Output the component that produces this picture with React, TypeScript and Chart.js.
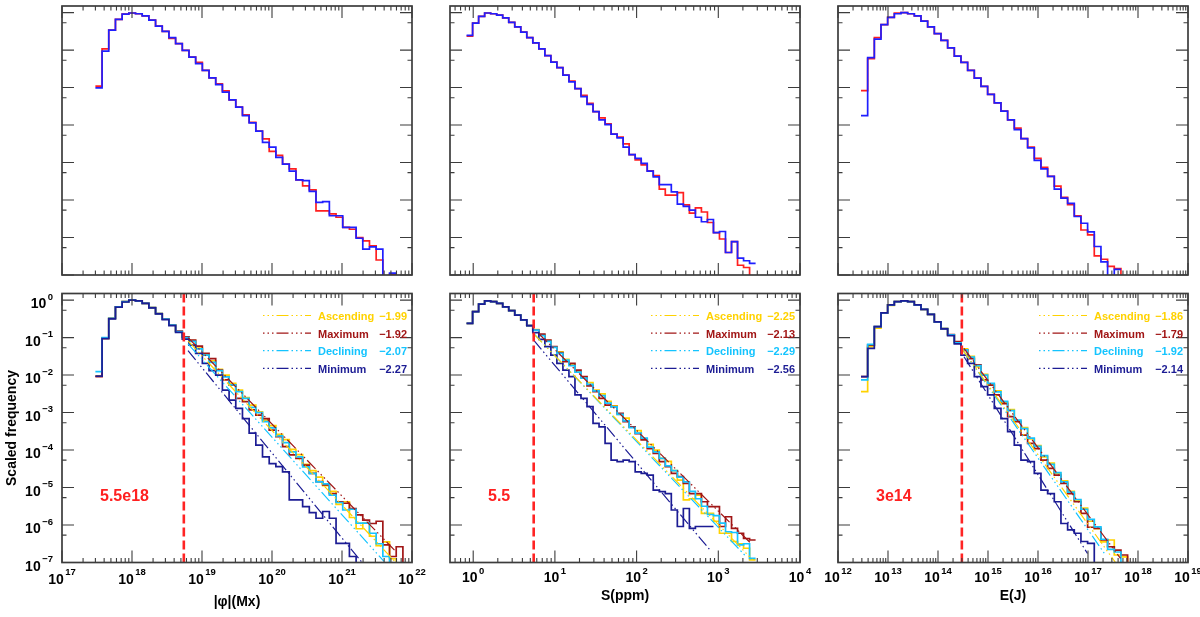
import { useEffect, useRef } from 'react'
import Chart from 'chart.js/auto'

// log10 of the first bin edge and bin width (dex) for each quantity
const fluxBinStart = 17.477
const fluxBinWidth = 0.0955
const sizeBinStart = -0.081
const sizeBinWidth = 0.0737
const energyBinStart = 12.46
const energyBinWidth = 0.1333

// axis ranges
const fluxRange = [1e17, 1e22]
const sizeRange = [0.52, 1e4]
const energyRange = [1e12, 1e19]
const freqRange = [1e-7, 1.5]

// top row: log10(scaled frequency) per bin, two samples (red / blue)
const fluxTopRed = [-1.96, -0.97, -0.47, -0.18, -0.04, -0.01, -0.03, -0.09, -0.2, -0.36, -0.5, -0.69, -0.83, -1.01, -1.19, -1.33, -1.54, -1.74, -1.9, -2.09, -2.33, -2.52, -2.73, -2.93, -3.16, -3.37, -3.7, -3.81, -4.04, -4.17, -4.46, -4.62, -4.73, -5.29, -5.29, -5.37, -5.46, -5.73, -5.78, -6.0, -6.09, -6.22, -6.6, -8, -6.98]
const fluxTopBlue = [-2.01, -1.03, -0.47, -0.18, -0.04, -0.01, -0.03, -0.09, -0.2, -0.36, -0.5, -0.67, -0.83, -1.01, -1.19, -1.36, -1.54, -1.74, -1.92, -2.12, -2.33, -2.52, -2.75, -2.94, -3.16, -3.46, -3.59, -3.86, -4.04, -4.23, -4.46, -4.48, -4.77, -5.06, -5.04, -5.42, -5.42, -5.73, -5.73, -6.02, -6.31, -6.25, -6.31, -8, -6.95]
const sizeTopRed = [-0.63, -0.28, -0.1, -0.01, -0.03, -0.07, -0.14, -0.26, -0.38, -0.52, -0.67, -0.81, -0.97, -1.15, -1.32, -1.47, -1.67, -1.83, -2.03, -2.21, -2.42, -2.64, -2.81, -2.97, -3.24, -3.32, -3.5, -3.79, -3.93, -4.06, -4.22, -4.35, -4.71, -4.87, -4.87, -4.8, -5.13, -5.35, -5.21, -5.32, -5.6, -5.87, -6.04, -6.4, -6.11, -6.74, -6.8, -8]
const sizeTopBlue = [-0.61, -0.28, -0.1, -0.01, -0.03, -0.07, -0.14, -0.26, -0.38, -0.52, -0.67, -0.81, -0.97, -1.15, -1.32, -1.47, -1.67, -1.85, -2.03, -2.24, -2.45, -2.64, -2.86, -2.99, -3.24, -3.34, -3.59, -3.79, -3.89, -4.02, -4.23, -4.38, -4.59, -4.59, -4.78, -5.11, -5.17, -5.27, -5.46, -5.58, -5.52, -5.87, -5.84, -6.4, -6.11, -6.55, -6.62, -6.69]
const energyTopRed = [-2.08, -1.23, -0.67, -0.32, -0.13, -0.01, 0.0, -0.03, -0.09, -0.23, -0.38, -0.56, -0.74, -0.94, -1.16, -1.33, -1.54, -1.75, -1.97, -2.18, -2.41, -2.63, -2.86, -3.08, -3.36, -3.59, -3.89, -4.13, -4.37, -4.63, -4.93, -5.12, -5.42, -5.8, -5.93, -6.49, -6.58, -6.77, -6.83, -8]
const energyTopBlue = [-2.75, -1.2, -0.71, -0.32, -0.13, -0.03, 0.0, -0.03, -0.09, -0.23, -0.38, -0.56, -0.74, -0.94, -1.16, -1.33, -1.54, -1.75, -1.97, -2.18, -2.41, -2.63, -2.86, -3.12, -3.36, -3.61, -3.94, -4.17, -4.37, -4.71, -4.95, -5.09, -5.44, -5.62, -5.85, -6.24, -6.65, -8, -6.85]

// bottom row: log10(scaled frequency) per bin for each cycle phase
const fluxAscending = [-2.02, -1.02, -0.49, -0.18, -0.04, 0.0, -0.02, -0.09, -0.2, -0.36, -0.51, -0.67, -0.84, -0.99, -1.08, -1.28, -1.45, -1.62, -1.85, -2.0, -2.22, -2.4, -2.6, -2.8, -2.98, -3.2, -3.35, -3.58, -3.72, -3.98, -4.12, -4.38, -4.55, -4.72, -4.95, -5.1, -5.45, -5.38, -5.8, -6.1, -5.95, -6.3, -6.55, -6.45, -6.9, -7.05]
const fluxMaximum = [-2.04, -1.02, -0.49, -0.18, -0.04, 0.0, -0.02, -0.09, -0.2, -0.36, -0.51, -0.67, -0.83, -0.98, -1.07, -1.23, -1.42, -1.56, -1.87, -2.13, -2.27, -2.62, -2.71, -2.93, -3.07, -3.16, -3.47, -3.64, -3.91, -4.13, -4.22, -4.4, -4.62, -4.84, -4.93, -5.16, -5.38, -5.42, -5.56, -5.73, -5.87, -5.96, -5.9, -6.53, -6.84, -6.58, -8]
const fluxDeclining = [-1.91, -1.0, -0.49, -0.18, -0.04, 0.0, -0.02, -0.09, -0.2, -0.36, -0.51, -0.67, -0.84, -1.0, -1.1, -1.3, -1.47, -1.66, -1.88, -2.05, -2.26, -2.44, -2.62, -2.86, -3.0, -3.24, -3.41, -3.62, -3.8, -4.05, -4.18, -4.45, -4.62, -4.85, -4.9, -5.2, -5.4, -5.6, -5.58, -5.95, -5.95, -6.22, -6.5, -6.84, -8]
const fluxMinimum = [-2.03, -1.03, -0.5, -0.19, -0.05, 0.0, -0.02, -0.09, -0.21, -0.37, -0.52, -0.68, -0.86, -1.04, -1.2, -1.42, -1.69, -1.88, -2.0, -2.4, -2.67, -2.89, -3.16, -3.55, -3.87, -4.18, -4.36, -4.44, -4.58, -5.33, -5.33, -5.51, -5.67, -5.82, -5.64, -5.82, -6.49, -6.49, -6.84, -8]

const sizeAscending = [-0.62, -0.31, -0.11, -0.02, -0.04, -0.09, -0.18, -0.28, -0.4, -0.53, -0.68, -0.79, -0.93, -1.08, -1.25, -1.38, -1.58, -1.72, -1.9, -2.05, -2.2, -2.4, -2.5, -2.7, -2.82, -3.05, -3.15, -3.38, -3.48, -3.7, -3.85, -4.0, -4.22, -4.3, -4.55, -4.8, -5.33, -5.3, -5.2, -5.69, -5.69, -5.9, -6.22, -6.22, -6.44, -6.5, -6.62, -6.93]
const sizeMaximum = [-0.62, -0.31, -0.11, -0.02, -0.04, -0.09, -0.18, -0.28, -0.4, -0.53, -0.68, -0.8, -0.91, -1.07, -1.24, -1.4, -1.64, -1.69, -1.87, -2.04, -2.29, -2.44, -2.62, -2.8, -2.84, -3.02, -3.24, -3.38, -3.56, -3.73, -3.96, -4.09, -4.31, -4.44, -4.62, -4.71, -4.89, -5.16, -5.16, -5.38, -5.51, -5.51, -6.04, -5.78, -6.09, -6.22, -6.36, -6.4]
const sizeDeclining = [-0.62, -0.31, -0.11, -0.02, -0.04, -0.09, -0.18, -0.28, -0.4, -0.53, -0.68, -0.8, -0.95, -1.1, -1.26, -1.42, -1.6, -1.75, -1.92, -2.08, -2.25, -2.42, -2.55, -2.75, -2.85, -3.05, -3.22, -3.4, -3.55, -3.68, -3.92, -4.05, -4.22, -4.42, -4.55, -4.72, -4.85, -5.1, -5.3, -5.5, -5.72, -5.75, -5.95, -6.18, -6.2, -6.53, -6.5, -6.89]
const sizeMinimum = [-0.62, -0.31, -0.11, -0.02, -0.04, -0.09, -0.18, -0.28, -0.4, -0.53, -0.68, -0.87, -1.05, -1.24, -1.47, -1.69, -1.87, -2.04, -2.53, -2.62, -2.84, -3.29, -3.38, -3.82, -4.27, -4.31, -4.27, -4.31, -4.58, -4.62, -4.67, -5.07, -5.11, -5.16, -5.6, -6.04, -5.56, -6.09, -6.04, -6.04, -6.04]

const energyAscending = [-2.44, -1.24, -0.75, -0.35, -0.14, -0.04, -0.02, -0.04, -0.13, -0.25, -0.38, -0.58, -0.76, -0.93, -1.14, -1.3, -1.5, -1.78, -1.98, -2.25, -2.42, -2.72, -2.92, -3.22, -3.4, -3.7, -3.88, -4.18, -4.35, -4.62, -4.82, -5.1, -5.35, -5.55, -5.9, -6.1, -6.45, -6.4, -6.8, -6.85, -8]
const energyMaximum = [-2.04, -1.2, -0.71, -0.34, -0.13, -0.04, -0.02, -0.04, -0.13, -0.25, -0.38, -0.58, -0.76, -0.92, -1.11, -1.33, -1.56, -1.73, -2.13, -2.27, -2.53, -2.76, -3.11, -3.24, -3.6, -3.82, -3.96, -4.27, -4.49, -4.67, -4.89, -5.16, -5.38, -5.69, -6.06, -6.09, -6.4, -6.58, -6.67, -6.8, -8]
const energyDeclining = [-2.13, -1.18, -0.71, -0.34, -0.13, -0.04, -0.02, -0.04, -0.13, -0.25, -0.38, -0.58, -0.76, -0.93, -1.14, -1.33, -1.52, -1.75, -2.0, -2.22, -2.45, -2.7, -2.95, -3.2, -3.43, -3.68, -3.9, -4.15, -4.38, -4.6, -4.85, -5.12, -5.32, -5.58, -5.85, -6.05, -6.38, -6.65, -6.72, -8]
const energyMinimum = [-2.04, -1.29, -0.71, -0.34, -0.13, -0.04, -0.02, -0.04, -0.13, -0.25, -0.38, -0.58, -0.77, -0.95, -1.17, -1.47, -1.69, -2.04, -2.31, -2.53, -2.89, -3.16, -3.51, -3.87, -4.27, -4.31, -4.62, -5.07, -5.16, -5.38, -5.96, -6.13, -6.22, -6.44, -6.49, -8]

// power-law fits: [log10 x0, log10 y0, log10 x1, log10 y1], order Ascending, Maximum, Declining, Minimum
const fluxFits = [[18.8, -1.09, 21.8, -7.06], [18.8, -1.0, 21.75, -6.67], [18.8, -1.17, 21.6, -6.97], [18.8, -1.35, 21.3, -7.03]]
const sizeFits = [[0.74, -0.9, 3.42, -6.93], [0.8, -0.89, 3.4, -6.49], [0.74, -0.89, 3.34, -6.84], [0.74, -1.07, 2.9, -6.67]]
const energyFits = [[14.48, -1.3, 17.55, -7.0], [14.52, -1.29, 17.65, -6.89], [14.48, -1.3, 17.35, -6.8], [14.52, -1.51, 16.99, -6.76]]

const phaseNames = ['Ascending', 'Maximum', 'Declining', 'Minimum']
const fluxSlopes = [-1.99, -1.92, -2.07, -2.27]
const sizeSlopes = [-2.25, -2.13, -2.29, -2.56]
const energySlopes = [-1.86, -1.79, -1.92, -2.14]

const fluxThreshold = 5.5e18
const sizeThreshold = 5.5
const energyThreshold = 3e14
const thresholdLabels = ['5.5e18', '5.5', '3e14']

const FONT = '"Liberation Sans", Arial, Helvetica, sans-serif'
const AXIS = '#3c3c3c'
const TOP_COLORS = ['#ff1f1f', '#1f1fff']
const PHASE_COLORS = ['#ffd200', '#a11616', '#14c4ff', '#1c1c94']
const FIT_DASH = [12, 3, 1.5, 3, 1.5, 3, 1.5, 3]

const PAD_LEFT = 62
const PAD_RIGHT = 30
const FRAME_W = 350
const FRAME_H = 269
const CANVAS_H = 329

type Pt = { x: number; y: number }

interface PanelSpec {
  left: number
  top: number
  padTop: number
  xRange: number[]
  binStart: number
  binWidth: number
  series: number[][]
  colors: string[]
  fits?: number[][]
  slopes?: number[]
  threshold?: number
  thresholdLabel?: string
  xTitle?: string
  xTitleDrop?: number
  xLabelDrop?: number
  yLabels?: boolean
}

function histogram(start: number, width: number, values: number[]): Pt[] {
  const pts: Pt[] = []
  values.forEach((v, i) => {
    pts.push({ x: 10 ** (start + width * i), y: 10 ** v })
    pts.push({ x: 10 ** (start + width * (i + 1)), y: 10 ** v })
  })
  return pts
}

function fitLine(f: number[]): Pt[] {
  return [
    { x: 10 ** f[0], y: 10 ** f[1] },
    { x: 10 ** f[2], y: 10 ** f[3] },
  ]
}

function expText(d: number) {
  return d < 0 ? '\u2212' + String(-d) : String(d)
}

function drawPower(ctx: CanvasRenderingContext2D, exp: string, x: number, y: number, align: 'center' | 'right') {
  const big = `bold 14px ${FONT}`
  const small = `bold 9.5px ${FONT}`
  ctx.font = big
  const wb = ctx.measureText('10').width
  ctx.font = small
  const we = ctx.measureText(exp).width
  const gap = 1.5
  const total = wb + gap + we
  const x0 = align === 'center' ? x - total / 2 : x - total
  ctx.textAlign = 'left'
  ctx.font = big
  ctx.fillText('10', x0, y)
  ctx.font = small
  ctx.fillText(exp, x0 + wb + gap, y - 8.5)
}

function framePlugin(spec: PanelSpec) {
  return {
    id: 'idlFrame',
    afterDraw(chart: any) {
      const ctx: CanvasRenderingContext2D = chart.ctx
      const a = chart.chartArea
      const xs = chart.scales.x
      const ys = chart.scales.y
      const [xMin, xMax] = spec.xRange
      ctx.save()

      // tick marks, inside the frame on all four sides
      ctx.strokeStyle = AXIS
      ctx.lineWidth = 1.1
      ctx.beginPath()
      const lo = Math.floor(Math.log10(xMin) + 1e-9)
      const hi = Math.round(Math.log10(xMax))
      for (let d = lo; d <= hi; d++) {
        for (let m = 1; m <= 9; m++) {
          const v = m * Math.pow(10, d)
          if (v < xMin * 0.9999 || v > xMax * 1.0001) continue
          const px = xs.getPixelForValue(v)
          const len = m === 1 ? 12 : 4.5
          ctx.moveTo(px, a.bottom)
          ctx.lineTo(px, a.bottom - len)
          ctx.moveTo(px, a.top)
          ctx.lineTo(px, a.top + len)
        }
      }
      for (let d = -7; d <= 0; d++) {
        const py = ys.getPixelForValue(Math.pow(10, d))
        ctx.moveTo(a.left, py)
        ctx.lineTo(a.left + 12, py)
        ctx.moveTo(a.right, py)
        ctx.lineTo(a.right - 12, py)
        if (d > -7) {
          const pm = ys.getPixelForValue(Math.pow(10, d - 0.27))
          ctx.moveTo(a.left, pm)
          ctx.lineTo(a.left + 4.5, pm)
          ctx.moveTo(a.right, pm)
          ctx.lineTo(a.right - 4.5, pm)
        }
      }
      ctx.stroke()

      ctx.lineWidth = 1.7
      ctx.strokeRect(a.left, a.top, a.right - a.left, a.bottom - a.top)

      ctx.fillStyle = '#000'
      ctx.textBaseline = 'alphabetic'
      if (spec.xLabelDrop !== undefined) {
        for (let d = Math.ceil(Math.log10(xMin) - 1e-9); d <= hi; d++) {
          drawPower(ctx, expText(d), xs.getPixelForValue(Math.pow(10, d)), a.bottom + spec.xLabelDrop, 'center')
        }
      }
      if (spec.yLabels) {
        for (let d = -7; d <= 0; d++) {
          drawPower(ctx, expText(d), a.left - 9, ys.getPixelForValue(Math.pow(10, d)) + 8, 'right')
        }
        ctx.save()
        ctx.translate(a.left - 46, (a.top + a.bottom) / 2)
        ctx.rotate(-Math.PI / 2)
        ctx.font = `bold 14px ${FONT}`
        ctx.textAlign = 'center'
        ctx.fillText('Scaled frequency', 0, 0)
        ctx.restore()
      }
      if (spec.xTitle) {
        ctx.font = `bold 14px ${FONT}`
        ctx.textAlign = 'center'
        ctx.fillText(spec.xTitle, (a.left + a.right) / 2, a.bottom + (spec.xTitleDrop ?? 37))
      }
      if (spec.thresholdLabel) {
        ctx.font = `bold 16px ${FONT}`
        ctx.fillStyle = '#ff2020'
        ctx.textAlign = 'left'
        ctx.fillText(spec.thresholdLabel, a.left + 38, a.top + 207)
      }
      if (spec.slopes) {
        spec.slopes.forEach((s, i) => {
          const y = a.top + 26.5 + 17.6 * i
          ctx.strokeStyle = spec.colors[i]
          ctx.lineWidth = 1.2
          ctx.setLineDash(FIT_DASH)
          ctx.lineDashOffset = 15
          ctx.beginPath()
          ctx.moveTo(a.right - 149, y - 4.5)
          ctx.lineTo(a.right - 101, y - 4.5)
          ctx.stroke()
          ctx.setLineDash([])
          ctx.fillStyle = spec.colors[i]
          ctx.font = `bold 11px ${FONT}`
          ctx.textAlign = 'left'
          ctx.fillText(phaseNames[i], a.right - 94, y)
          ctx.textAlign = 'right'
          ctx.fillText(s.toFixed(2).replace('-', '\u2212'), a.right - 5, y)
        })
      }
      ctx.restore()
    },
  }
}

function buildDatasets(spec: PanelSpec) {
  const sets: any[] = []
  const n = spec.series.length
  spec.series.forEach((values, i) => {
    sets.push({
      data: histogram(spec.binStart, spec.binWidth, values),
      borderColor: spec.colors[i],
      borderWidth: 1.7,
      order: 2 + (n - i),
    })
  })
  if (spec.fits) {
    spec.fits.forEach((f, i) => {
      sets.push({
        data: fitLine(f),
        borderColor: spec.colors[i],
        borderWidth: 1.2,
        borderDash: FIT_DASH,
        order: 1,
      })
    })
  }
  if (spec.threshold !== undefined) {
    sets.push({
      data: [
        { x: spec.threshold, y: freqRange[0] },
        { x: spec.threshold, y: freqRange[1] },
      ],
      borderColor: '#ff2424',
      borderWidth: 2.6,
      borderDash: [9, 4],
      order: 0,
    })
  }
  return sets
}

const colLeft = [0, 388, 776]
const TOP_ROW = { top: 0, padTop: 6 }
const BOTTOM_ROW = { top: 288, padTop: 5.5 }

const panels: PanelSpec[] = [
  { left: colLeft[0], ...TOP_ROW, xRange: fluxRange, binStart: fluxBinStart, binWidth: fluxBinWidth, series: [fluxTopRed, fluxTopBlue], colors: TOP_COLORS },
  { left: colLeft[1], ...TOP_ROW, xRange: sizeRange, binStart: sizeBinStart, binWidth: sizeBinWidth, series: [sizeTopRed, sizeTopBlue], colors: TOP_COLORS },
  { left: colLeft[2], ...TOP_ROW, xRange: energyRange, binStart: energyBinStart, binWidth: energyBinWidth, series: [energyTopRed, energyTopBlue], colors: TOP_COLORS },
  {
    left: colLeft[0], ...BOTTOM_ROW, xRange: fluxRange, binStart: fluxBinStart, binWidth: fluxBinWidth,
    series: [fluxAscending, fluxMaximum, fluxDeclining, fluxMinimum], colors: PHASE_COLORS,
    fits: fluxFits, slopes: fluxSlopes, threshold: fluxThreshold, thresholdLabel: thresholdLabels[0],
    xTitle: '|\u03c6|(Mx)', xTitleDrop: 43, xLabelDrop: 21, yLabels: true,
  },
  {
    left: colLeft[1], ...BOTTOM_ROW, xRange: sizeRange, binStart: sizeBinStart, binWidth: sizeBinWidth,
    series: [sizeAscending, sizeMaximum, sizeDeclining, sizeMinimum], colors: PHASE_COLORS,
    fits: sizeFits, slopes: sizeSlopes, threshold: sizeThreshold, thresholdLabel: thresholdLabels[1],
    xTitle: 'S(ppm)', xTitleDrop: 37, xLabelDrop: 19.5,
  },
  {
    left: colLeft[2], ...BOTTOM_ROW, xRange: energyRange, binStart: energyBinStart, binWidth: energyBinWidth,
    series: [energyAscending, energyMaximum, energyDeclining, energyMinimum], colors: PHASE_COLORS,
    fits: energyFits, slopes: energySlopes, threshold: energyThreshold, thresholdLabel: thresholdLabels[2],
    xTitle: 'E(J)', xTitleDrop: 37, xLabelDrop: 19.5,
  },
]

function Panel({ spec }: { spec: PanelSpec }) {
  const canvasRef = useRef<HTMLCanvasElement>(null)

  useEffect(() => {
    if (!canvasRef.current) return
    const chart = new Chart(canvasRef.current, {
      type: 'line',
      data: { datasets: buildDatasets(spec) },
      options: {
        animation: false,
        responsive: true,
        maintainAspectRatio: false,
        events: [],
        layout: {
          padding: {
            left: PAD_LEFT,
            right: PAD_RIGHT,
            top: spec.padTop,
            bottom: CANVAS_H - spec.padTop - FRAME_H,
          },
        },
        elements: { point: { radius: 0 }, line: { tension: 0, fill: false } },
        plugins: { legend: { display: false }, tooltip: { enabled: false } },
        scales: {
          x: { type: 'logarithmic', min: spec.xRange[0], max: spec.xRange[1], display: false },
          y: { type: 'logarithmic', min: freqRange[0], max: freqRange[1], display: false },
        },
      },
      plugins: [framePlugin(spec)],
    } as any)
    return () => chart.destroy()
  }, [spec])

  return (
    <div
      style={{
        position: 'absolute',
        left: spec.left,
        top: spec.top,
        width: PAD_LEFT + FRAME_W + PAD_RIGHT,
        height: CANVAS_H,
      }}
    >
      <canvas ref={canvasRef} />
    </div>
  )
}

export default function App() {
  return (
    <div
      style={{
        position: 'absolute',
        left: 0,
        top: 0,
        width: 1200,
        height: 617,
        background: '#fff',
        overflow: 'hidden',
      }}
    >
      {panels.map((p, i) => (
        <Panel key={i} spec={p} />
      ))}
    </div>
  )
}
